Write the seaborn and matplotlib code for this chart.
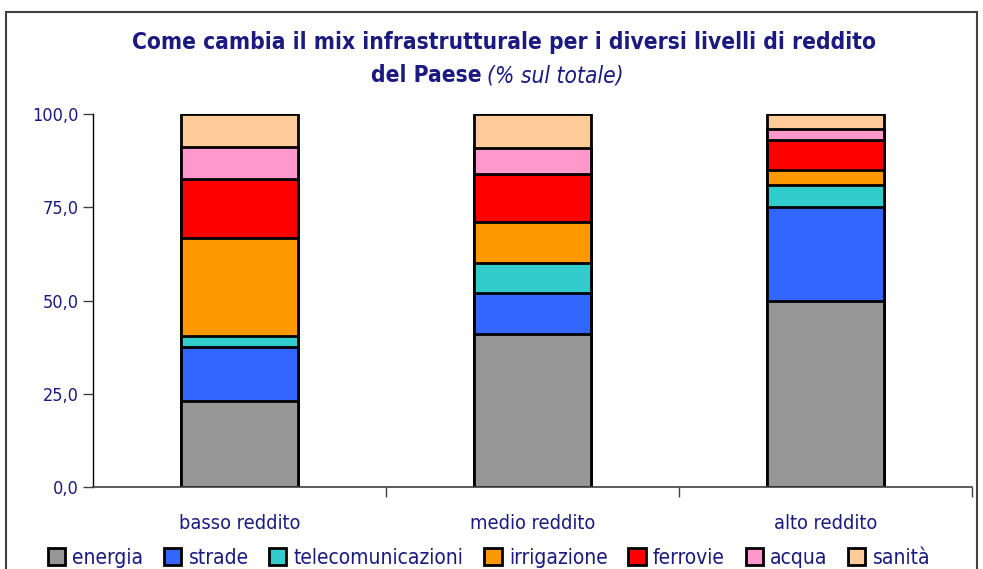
import numpy as np
import pandas as pd
import seaborn as sns
import matplotlib.pyplot as plt
from matplotlib.patches import Rectangle, Patch

# Data (% of total)
categories = ['basso reddito', 'medio reddito', 'alto reddito']
series = ['energia', 'strade', 'telecomunicazioni', 'irrigazione', 'ferrovie', 'acqua', 'sanità']
energia = [23.0, 41.0, 50.0]
strade = [14.4, 11.0, 25.0]
telecomunicazioni = [3.0, 8.0, 6.0]
irrigazione = [26.3, 11.0, 4.0]
ferrovie = [15.8, 13.0, 8.0]
acqua = [8.7, 7.0, 3.0]
sanita = [8.8, 9.0, 4.0]
yticks = [0, 25, 50, 75, 100]
ytick_labels = ['0,0', '25,0', '50,0', '75,0', '100,0']

colors = ['#969696', '#3366ff', '#33cccc', '#ff9900', '#ff0000', '#ff99cc', '#ffcc99']
navy = '#1a1a80'

df = pd.DataFrame({'categoria': categories, 'energia': energia, 'strade': strade,
                   'telecomunicazioni': telecomunicazioni, 'irrigazione': irrigazione,
                   'ferrovie': ferrovie, 'acqua': acqua, 'sanità': sanita})
cum = df[series].cumsum(axis=1)
cum['categoria'] = df['categoria']

sns.set_theme(style='white')
plt.rcParams['font.family'] = ['DejaVu Sans']
plt.rcParams['font.stretch'] = 'condensed'

W, H = 983, 569
fig = plt.figure(figsize=(W / 100, H / 100), dpi=100)
ax = fig.add_axes([93 / W, (H - 487) / H, (972 - 93) / W, (487 - 114) / H])

# stacked bars: draw cumulative totals from the top series down
for s, c in reversed(list(zip(series, colors))):
    sns.barplot(data=cum, x='categoria', y=s, color=c, width=0.4, saturation=1,
                edgecolor='black', linewidth=2, ax=ax)

ax.set_xlim(-0.5, 2.5)
ax.set_ylim(0, 100)
ax.set_xlabel('')
ax.set_ylabel('')
ax.set_yticks(yticks)
ax.set_yticklabels(ytick_labels, color=navy, fontsize=13)
ax.set_xticks([0.5, 1.5, 2.5], minor=False)
ax.set_xticklabels([])
for i, cat in enumerate(categories):
    ax.text(i, -9.8, cat, ha='center', va='center', color=navy, fontsize=14.3)
ax.tick_params(axis='y', left=True, length=7, width=1, color='#404040', pad=3)
ax.tick_params(axis='x', bottom=True, length=7, width=1, color='#404040')
for side in ['top', 'right']:
    ax.spines[side].set_visible(False)
ax.spines['left'].set_color('black')
ax.spines['left'].set_linewidth(1)
ax.spines['bottom'].set_color('#404040')
ax.spines['bottom'].set_linewidth(1.2)

# outer frame
fig.patches.append(Rectangle((6 / W, -0.05), (977 - 6) / W, (H - 12) / H + 0.05,
                             transform=fig.transFigure, fill=False,
                             edgecolor='#404040', linewidth=1.5))

# title
fig.text(504 / W, 1 - 42 / H, 'Come cambia il mix infrastrutturale per i diversi livelli di reddito',
         ha='center', va='center', color=navy, fontsize=16.3, fontweight='bold')
fig.text(482 / W, 1 - 76 / H, 'del Paese', ha='right', va='center', color=navy,
         fontsize=16.3, fontweight='bold')
fig.text(487 / W, 1 - 76 / H, '(% sul totale)', ha='left', va='center', color=navy,
         fontsize=16.3, fontstyle='italic')

handles = [Patch(facecolor=c, edgecolor='black', linewidth=2) for c in colors]
leg = fig.legend(handles, series, loc='center', bbox_to_anchor=(489 / W, 1 - 557.5 / H),
                 ncol=7, frameon=False, fontsize=15, handlelength=0.82, handleheight=0.85,
                 handletextpad=0.35, columnspacing=1.0)
for t in leg.get_texts():
    t.set_color(navy)

fig.savefig('out.png', dpi=100)
